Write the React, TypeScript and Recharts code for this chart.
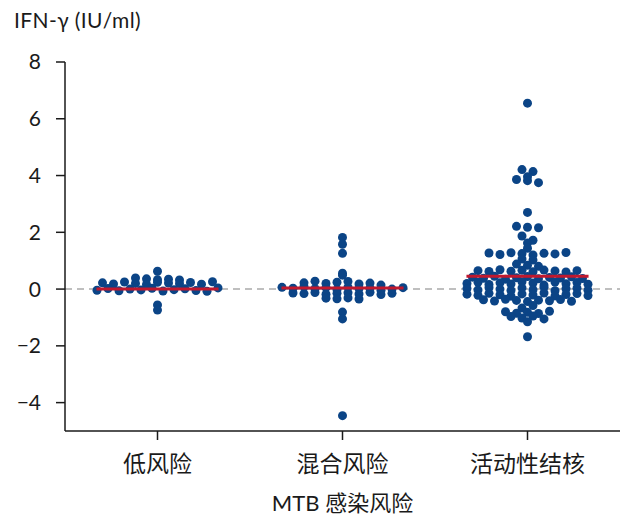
import React from 'react';
import { ScatterChart, Scatter, XAxis, YAxis, ReferenceLine } from 'recharts';

const categories = ['低风险', '混合风险', '活动性结核'];

const lowRisk = [
  0.63,
  0.39, 0.36, 0.33, 0.35, 0.32,
  0.22, 0.18, 0.25, 0.2, 0.16, 0.24, 0.21, 0.19, 0.23, 0.17, 0.26,
  -0.04, 0.02, -0.06, 0.0, -0.03, 0.03, -0.07, -0.02, 0.01, -0.05, -0.08, 0.04,
  -0.56, -0.74,
];

const mixedRisk = [
  1.82, 1.58, 1.26, 0.56, 0.49,
  0.22, 0.28, 0.2, 0.24, 0.27, 0.18, 0.21, 0.14,
  0.06, 0.03, 0.08, 0.01, 0.05, -0.02, 0.07, 0.02, 0.04, -0.04, 0.0, 0.05,
  -0.14, -0.16, -0.12, -0.18, -0.15, -0.13, -0.17, -0.11, -0.19, -0.15,
  -0.32, -0.34, -0.31, -0.35,
  -0.81, -1.05, -4.46,
];

const activeTB = [
  6.55, 4.21, 4.14, 3.96, 3.86, 3.82, 3.75, 2.7, 2.21, 2.18, 2.16, 1.87, 1.72, 1.62, 1.44,
  1.27, 1.22, 1.28, 1.25, 1.2, 1.26, 1.24, 1.29,
  1.06, 1.02,
  0.88, 0.84, 0.8,
  0.65, 0.62, 0.68, 0.63, 0.66, 0.61, 0.67, 0.64, 0.6, 0.65,
  0.42, 0.38, 0.45, 0.35, 0.4, 0.44, 0.36, 0.41, 0.39, 0.43, 0.37,
  0.2, 0.24, 0.16, 0.22, 0.18, 0.26, 0.21, 0.14, 0.25, 0.19, 0.23, 0.17,
  0.02, -0.03, 0.05, 0.0, -0.05, 0.04, -0.02, 0.06, -0.06, 0.01, 0.03, -0.04,
  -0.18, -0.22, -0.15, -0.2, -0.25, -0.17, -0.21, -0.14, -0.24, -0.19, -0.16, -0.23,
  -0.38, -0.42, -0.36, -0.4, -0.44, -0.39, -0.41, -0.37, -0.43,
  -0.67, -0.58,
  -0.8, -0.85, -0.82, -0.86, -0.78,
  -0.97, -1.02, -0.95, -1.05,
  -1.15, -1.68,
];

const groups = [lowRisk, mixedRisk, activeTB];
const centerValues = [0.0, 0.04, 0.45];
const yTicks = [-4, -2, 0, 2, 4, 6, 8];
const xTicks = [0, 1, 2];

const W = 625;
const H = 517;
const MARGIN = { top: 62, right: 5, bottom: 0, left: 0 };
const Y_AXIS_W = 65;
const X_AXIS_H = 86;
const PX_PER_X = (W - MARGIN.left - MARGIN.right - Y_AXIS_W) / 3;
const BIN = 0.2;
const COL_PX = 11;
const HALF_LINE = 0.33;

const FONT = "Lato, 'Noto Sans CJK SC', sans-serif";
const DOT = '#0b4486';
const RED = '#c0182e';
const INK = '#1a1a1a';

type Pt = { x: number; y: number };

function layout(values: number[], idx: number): Pt[] {
  const bins = new Map<number, number[]>();
  values.forEach((v) => {
    const b = Math.round(v / BIN);
    if (!bins.has(b)) bins.set(b, []);
    bins.get(b)!.push(v);
  });
  const pts: Pt[] = [];
  bins.forEach((list) => {
    const n = list.length;
    list.forEach((v, i) => {
      pts.push({ x: idx + ((i - (n - 1) / 2) * COL_PX) / PX_PER_X, y: v });
    });
  });
  return pts;
}

const scatterData = groups.map((g, i) => layout(g, i));
const centerData = centerValues.map((m, i) => [
  { x: i - HALF_LINE, y: m },
  { x: i + HALF_LINE, y: m },
]);

const Dot = (p: any) => <circle cx={p.cx} cy={p.cy} r={4.5} fill={DOT} />;
const NoDot = () => <g />;

export default function App() {
  return (
    <div style={{ position: 'absolute', left: 0, top: 0, width: W, height: H, background: '#fff' }}>
      <div
        style={{
          position: 'absolute',
          left: 14,
          top: 9,
          fontFamily: FONT,
          fontSize: 21,
          letterSpacing: 0.4,
          lineHeight: '22px',
          color: INK,
          whiteSpace: 'nowrap',
        }}
      >
        IFN-γ (IU/ml)
      </div>
      <ScatterChart width={W} height={H} margin={MARGIN}>
        <XAxis
          type="number"
          dataKey="x"
          domain={[-0.5, 2.5]}
          ticks={xTicks}
          tickFormatter={(v: number) => categories[v] ?? ''}
          allowDataOverflow
          height={X_AXIS_H}
          tickSize={9}
          tickMargin={16}
          axisLine={{ stroke: INK, strokeWidth: 1.5 }}
          tickLine={{ stroke: INK, strokeWidth: 1.5 }}
          tick={{ fill: INK, fontSize: 23, fontFamily: FONT }}
          label={{ value: 'MTB 感染风险', position: 'insideBottom', offset: 6, fill: INK, fontSize: 22, fontFamily: FONT }}
        />
        <YAxis
          type="number"
          dataKey="y"
          domain={[-5, 8]}
          ticks={yTicks}
          allowDataOverflow
          width={Y_AXIS_W}
          tickSize={9}
          tickMargin={15}
          axisLine={{ stroke: INK, strokeWidth: 1.5 }}
          tickLine={{ stroke: INK, strokeWidth: 1.5 }}
          tick={{ fill: INK, fontSize: 21, fontFamily: FONT }}
          tickFormatter={(v: number) => (v < 0 ? '−' + Math.abs(v) : String(v))}
        />
        <ReferenceLine y={0} stroke="#aaaaaa" strokeWidth={1.5} strokeDasharray="7 5" />
        {scatterData.map((d, i) => (
          <Scatter key={i} data={d} shape={Dot} isAnimationActive={false} />
        ))}
        {centerData.map((d, i) => (
          <Scatter
            key={'c' + i}
            data={d}
            shape={NoDot}
            line={{ stroke: RED, strokeWidth: 3 }}
            lineType="joint"
            isAnimationActive={false}
          />
        ))}
      </ScatterChart>
    </div>
  );
}
